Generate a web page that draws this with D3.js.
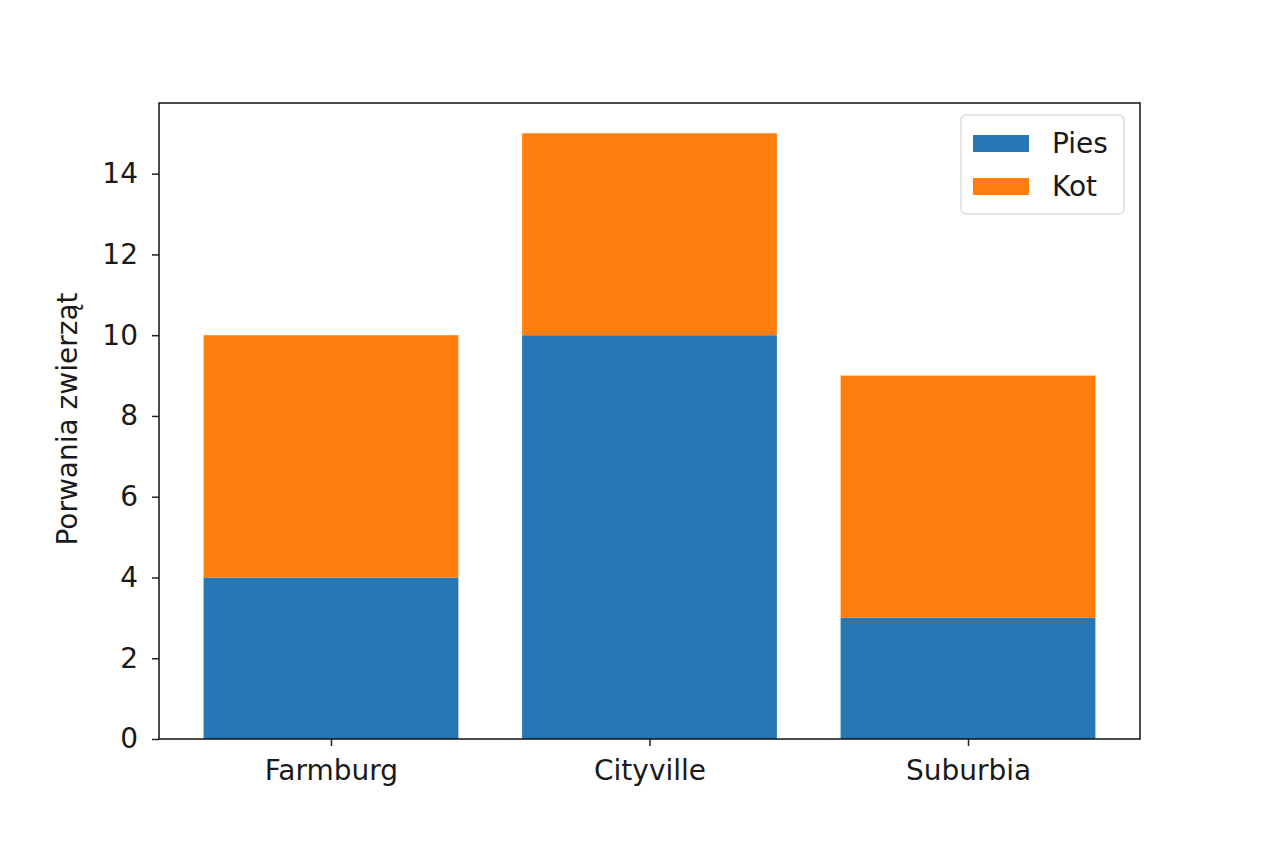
<!DOCTYPE html>
<html lang="pl">
  <head>
    <meta charset="UTF-8">
    <script src="https://d3js.org/d3.v7.min.js"></script>
    <title>Porwania zwierząt</title>
    <style>
      body {
        margin: 0;
        background: #fff;
      }
      .chart text {
        font-family: "DejaVu Sans", sans-serif;
        fill: #1a1a1a;
      }
    </style>
  </head>
  <body>
    <div class="chart" id="chart"></div>
    <script>
      // dane
      const cities = ['Farmburg', 'Cityville', 'Suburbia'];
      const dogs = [4, 10, 3];
      const cats = [6, 5, 6];
      const seriesNames = ['Pies', 'Kot'];
      const seriesColors = ['#2677b4', '#ff7f0e'];
      const yTicks = [0, 2, 4, 6, 8, 10, 12, 14];

      const width = 1264;
      const height = 843;
      const margin = { top: 103, right: 124, bottom: 104, left: 159 };
      const innerW = width - margin.left - margin.right;
      const innerH = height - margin.top - margin.bottom;
      const fontSize = 28;

      const svg = d3.select('#chart')
        .append('svg')
        .attr('width', width)
        .attr('height', height);

      const g = svg.append('g')
        .attr('transform', `translate(${margin.left},${margin.top})`);

      // jak w matplotlib: słupki szerokości 0.8, marginesy 5%
      const lo = -0.4, hi = cities.length - 1 + 0.4;
      const pad = (hi - lo) * 0.05;
      const x = d3.scaleLinear().domain([lo - pad, hi + pad]).range([0, innerW]);

      const totals = cities.map((c, i) => dogs[i] + cats[i]);
      const y = d3.scaleLinear().domain([0, d3.max(totals) * 1.05]).range([innerH, 0]);

      const stacked = d3.stack().keys([0, 1])
        .value((d, k) => k === 0 ? d.dog : d.cat)(
          cities.map((c, i) => ({ city: c, i, dog: dogs[i], cat: cats[i] }))
        );

      g.selectAll('.layer')
        .data(stacked)
        .enter()
        .append('g')
        .attr('class', 'layer')
        .attr('fill', (d, k) => seriesColors[k])
        .selectAll('rect')
        .data(d => d)
        .enter()
        .append('rect')
        .attr('x', d => x(d.data.i - 0.4))
        .attr('width', d => x(d.data.i + 0.4) - x(d.data.i - 0.4))
        .attr('y', d => y(d[1]))
        .attr('height', d => y(d[0]) - y(d[1]));

      // osie
      const yAxis = g.append('g')
        .call(d3.axisLeft(y).tickValues(yTicks).tickSize(7).tickPadding(14).tickFormat(d3.format('d')));
      yAxis.select('.domain').remove();
      yAxis.selectAll('text').attr('font-size', fontSize);
      yAxis.selectAll('line').attr('stroke', '#222').attr('stroke-width', 1.5);

      const xAxis = g.append('g')
        .attr('transform', `translate(0,${innerH})`)
        .call(d3.axisBottom(x).tickValues(d3.range(cities.length)).tickSize(7).tickPadding(14).tickFormat(i => cities[i]));
      xAxis.select('.domain').remove();
      xAxis.selectAll('text').attr('font-size', fontSize);
      xAxis.selectAll('line').attr('stroke', '#222').attr('stroke-width', 1.5);

      // ramka
      g.append('rect')
        .attr('width', innerW)
        .attr('height', innerH)
        .attr('fill', 'none')
        .attr('stroke', '#111')
        .attr('stroke-width', 1.5);

      svg.append('text')
        .attr('transform', `translate(77,${margin.top + innerH / 2 - 2}) rotate(-90)`)
        .attr('text-anchor', 'middle')
        .attr('font-size', fontSize)
        .text('Porwania zwierząt');

      // legenda
      const legend = g.append('g')
        .attr('transform', `translate(${innerW - 179},${12})`);
      legend.append('rect')
        .attr('width', 163)
        .attr('height', 99)
        .attr('rx', 5)
        .attr('fill', '#fff')
        .attr('fill-opacity', 0.8)
        .attr('stroke', '#ddd')
        .attr('stroke-width', 1.5);
      seriesNames.forEach((name, k) => {
        const row = legend.append('g').attr('transform', `translate(12,${28 + k * 43})`);
        row.append('rect')
          .attr('y', -8)
          .attr('width', 56)
          .attr('height', 17)
          .attr('fill', seriesColors[k]);
        row.append('text')
          .attr('x', 79)
          .attr('y', 10)
          .attr('font-size', fontSize)
          .text(name);
      });
    </script>
  </body>
</html>
